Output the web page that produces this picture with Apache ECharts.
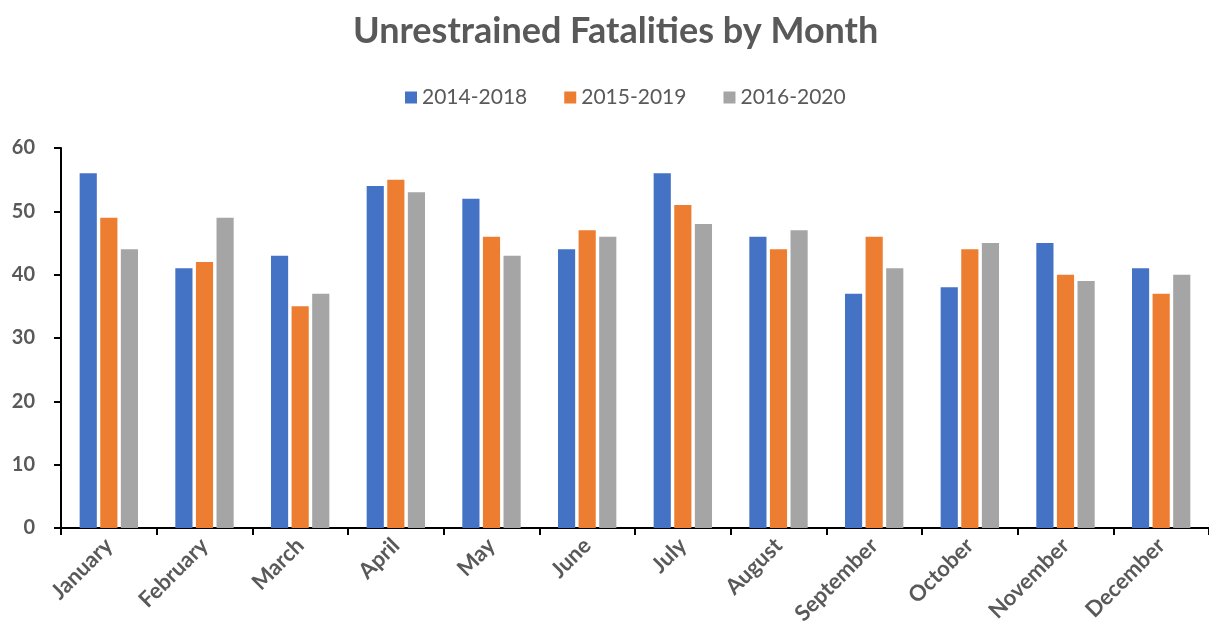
<!DOCTYPE html>
<html>
<head>
<meta charset="utf-8">
<title>Unrestrained Fatalities by Month</title>
<script src="https://cdn.jsdelivr.net/npm/echarts@6/dist/echarts.min.js"></script>
<style>
  html, body { margin: 0; padding: 0; background: #fff; }
  #chart { width: 1209px; height: 642px; }
</style>
</head>
<body>
<div id="chart"></div>
<script>
// 数据
const months = ['January', 'February', 'March', 'April', 'May', 'June',
  'July', 'August', 'September', 'October', 'November', 'December']
const s2014 = [56, 41, 43, 54, 52, 44, 56, 46, 37, 38, 45, 41]
const s2015 = [49, 42, 35, 55, 46, 47, 51, 44, 46, 44, 40, 37]
const s2016 = [44, 49, 37, 53, 43, 46, 48, 47, 41, 45, 39, 40]
const yTicks = [0, 10, 20, 30, 40, 50, 60]

const textColor = '#595959'
const font = 'Lato, "Open Sans", sans-serif'

const chart = echarts.init(document.getElementById('chart'))

function bar(name, data, color) {
  return {
    name: name,
    type: 'bar',
    data: data,
    barGap: '20%',
    barCategoryGap: '39%',
    itemStyle: { color: color }
  }
}

chart.setOption({
  animation: false,
  title: {
    text: 'Unrestrained Fatalities by Month',
    left: 348,
    top: 8,
    textStyle: { fontFamily: font, fontSize: 36, fontWeight: 'bold', color: textColor }
  },
  legend: {
    top: 82,
    left: 400,
    itemWidth: 12,
    itemHeight: 12,
    itemGap: 37,
    icon: 'rect',
    textStyle: { fontFamily: font, fontSize: 21, color: textColor }
  },
  grid: { left: 61, right: -4, top: 148, bottom: 114 },
  xAxis: {
    type: 'category',
    data: months,
    axisLine: { lineStyle: { color: '#000', width: 2 } },
    axisTick: { show: true, length: 7, lineStyle: { color: '#000', width: 2 } },
    axisLabel: {
      rotate: 45,
      margin: 14,
      fontFamily: font,
      fontSize: 22,
      fontWeight: 'bold',
      color: textColor
    }
  },
  yAxis: {
    type: 'value',
    min: yTicks[0],
    max: yTicks[yTicks.length - 1],
    interval: 10,
    splitLine: { show: false },
    axisLine: { show: true, lineStyle: { color: '#000', width: 2 } },
    axisTick: { show: true, length: 7, lineStyle: { color: '#000', width: 2 } },
    axisLabel: {
      margin: 26,
      fontFamily: font,
      fontSize: 20,
      fontWeight: 'bold',
      color: textColor
    }
  },
  series: [
    bar('2014-2018', s2014, '#4472C4'),
    bar('2015-2019', s2015, '#ED7D31'),
    bar('2016-2020', s2016, '#A5A5A5')
  ]
})
</script>
</body>
</html>
